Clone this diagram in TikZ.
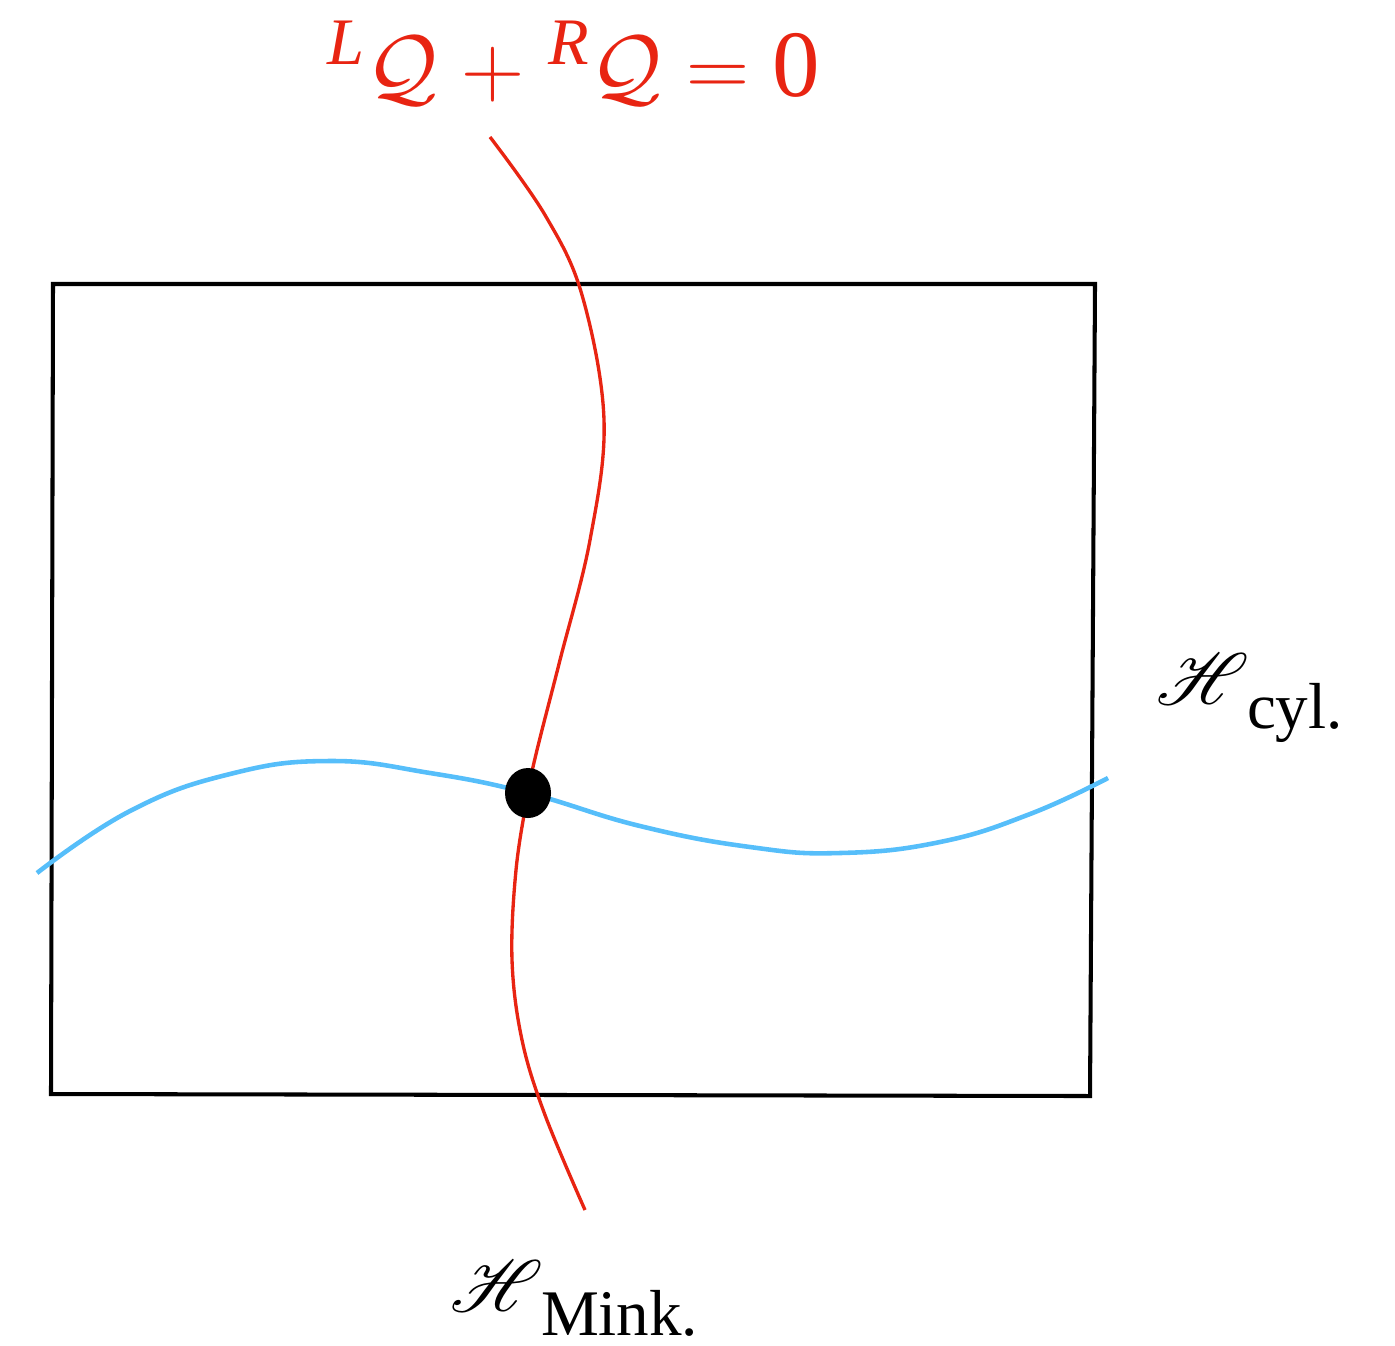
\documentclass[tikz,border=0pt]{standalone}
\usepackage{amsmath}
\usepackage{mathrsfs}
\usepackage{fontspec}
\setmainfont{Liberation Serif}
\usepackage{tikz}
\usetikzlibrary{positioning, shapes.geometric}

\newcommand{\calQ}{{\fontsize{24}{28}\selectfont$\mathcal{Q}$}}

\begin{document}
\begin{tikzpicture}[
    x=0.01cm, y=-0.01cm,
    every node/.style={inner sep=0pt, outer sep=0pt, text=black},
    frame/.style={draw=black, line width=1.15pt, line join=miter},
    redLine/.style={draw=redTone, line width=0.95pt},
    blueLine/.style={draw=blueTone, line width=1.3pt},
    dotMark/.style={ellipse, fill=black, minimum width=0.46cm, minimum height=0.50cm},
    eqLabel/.style={font=\fontsize{27}{32}\selectfont, text=redTone},
    scriptH/.style={font=\fontsize{22}{26}\selectfont},
    subText/.style={font=\fontsize{18.5}{22}\selectfont}
  ]
    \definecolor{redTone}{RGB}{232,36,18}
    \definecolor{blueTone}{RGB}{86,190,250}

    \useasboundingbox (0,0) rectangle (1395,1345);

    % box
    \draw[frame] (53,284) -- (1095,284) -- (1090,1096) -- (51,1094) -- cycle;

    % horizons
    \coordinate (mTop) at (490,137);
    \coordinate (mBot) at (585,1210);
    \coordinate (cLeft) at (37,873);
    \coordinate (cRight) at (1108,778);
    \coordinate (meet) at (528,793);

    \draw[redLine] plot[smooth, tension=0.6] coordinates {(mTop) (545,215) (582,295) (604,420) (590,540) (560,660) (537,750) (meet) (516,870) (512,960) (522,1040) (545,1115) (mBot)};
    \draw[blueLine] plot[smooth, tension=0.75] coordinates {(cLeft) (130,811) (230,774) (330,761) (430,773) (meet) (640,826) (750,847) (840,853) (940,842) (1030,814) (cRight)};

    \node[dotMark] (dot) at (meet) {};

    % labels
    \node[eqLabel, anchor=base] (eq) at (574,96) {\textsuperscript{\textit{L}}\calQ{} $+$ \textsuperscript{\textit{R}}\calQ{} $=$ 0};
    \node[scriptH, anchor=base west] (hcyl) at (1156,704) {$\mathscr{H}$};
    \node[subText, anchor=base west] (cyl) at (1247,728) {cyl.};
    \node[scriptH, anchor=base west] (hmink) at (450,1311) {$\mathscr{H}$};
    \node[subText, anchor=base west] (mink) at (541,1335) {Mink.};
\end{tikzpicture}
\end{document}
